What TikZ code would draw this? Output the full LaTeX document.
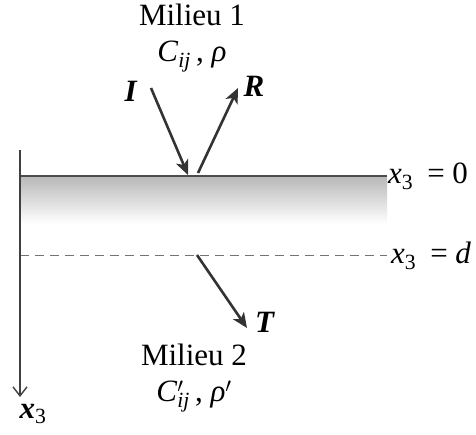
\documentclass[tikz,border=0pt]{standalone}
\usepackage{fontspec}
\setmainfont{Liberation Serif}
\usetikzlibrary{arrows.meta}
\begin{document}
\begin{tikzpicture}[x=1pt,y=-1pt,
  txt/.style={inner sep=0pt,font=\fontsize{31}{34}\selectfont},
  medium/.style={txt,align=center,font=\fontsize{31}{36}\selectfont},
  wave/.style={line width=2.6pt,draw=black!80,-{Stealth[length=15pt,width=13pt,inset=4pt]}},
  axis/.style={line width=1.4pt,draw=black!75,-{Straight Barb[length=9pt,width=14pt,line width=1.4pt]}},
  iface/.style={line width=1.4pt,draw=black!70},
  dashline/.style={line width=1pt,draw=black!55,dash pattern=on 9pt off 6pt}]
\useasboundingbox (0,0) rectangle (476,434);
% gradient layer
\shade[top color=black!28, bottom color=white] (20,176) rectangle (387,224);
% coordinates
\coordinate (top) at (20,150);
\coordinate (bot) at (20,397);
\coordinate (il) at (20,176);
\coordinate (ir) at (387,176);
\coordinate (dl) at (20,255);
\coordinate (dr) at (387,255);
\coordinate (Is) at (151,88);
\coordinate (Ie) at (188,175);
\coordinate (Rs) at (198,173);
\coordinate (Re) at (238,88);
\coordinate (Ts) at (197,255);
\coordinate (Te) at (247,328);
% lines
\draw[iface] (il) -- (ir);
\draw[dashline] (dl) -- (dr);
\draw[axis] (top) -- (bot);
\draw[wave] (Is) -- (Ie);
\draw[wave] (Rs) -- (Re);
\draw[wave] (Ts) -- (Te);
% labels
\node[medium] (m1) at (192,38) {Milieu 1\\\textit{C}\textsubscript{\textit{ij}}\,, \textit{ρ}};
\node[medium] (m2) at (194,378) {Milieu 2\\\textit{C}\rlap{$^{\prime}$}\textsubscript{\textit{ij}}\,, \textit{ρ}$^{\prime}$};
\node[txt] (lI) at (131,91) {\textbf{\textit{I}}};
\node[txt] (lR) at (254,86) {\textbf{\textit{R}}};
\node[txt] (lT) at (265,322) {\textbf{\textit{T}}};
\node[txt,anchor=west] (l0) at (388,176) {\textit{x}\textsubscript{3}\hspace{0.45em}=\hspace{0.25em}0};
\node[txt,anchor=west] (ld) at (391,256) {\textit{x}\textsubscript{3}\hspace{0.45em}=\hspace{0.25em}\textit{d}};
\node[txt] (lx) at (33,414) {\textbf{\textit{x}}\textsubscript{3}};
\end{tikzpicture}
\end{document}
